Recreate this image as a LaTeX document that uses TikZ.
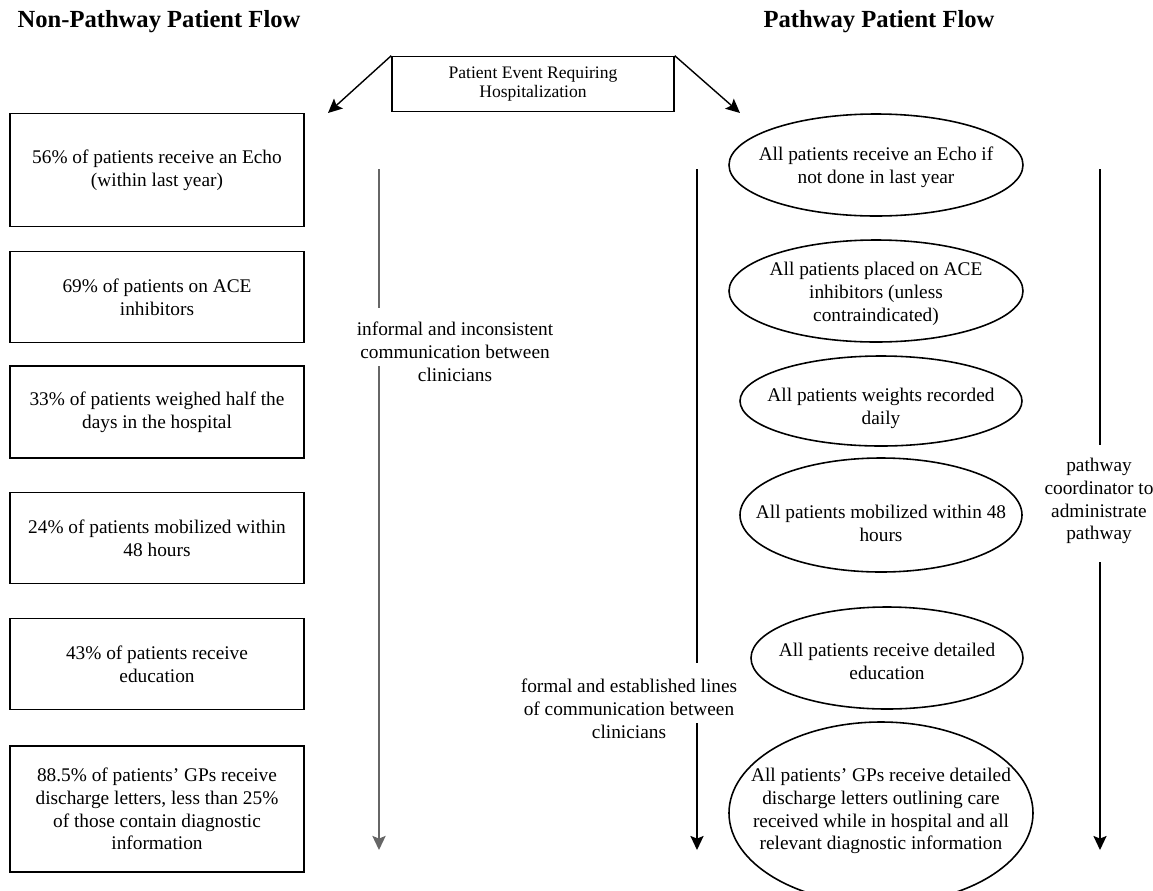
\documentclass[tikz,border=0pt]{standalone}
\usepackage{fontspec}
\setmainfont{Liberation Serif}
\usetikzlibrary{arrows.meta}
\begin{document}
\begin{tikzpicture}[x=0.02cm, y=-0.02cm, >={Stealth[length=8pt, width=7.5pt, inset=1.5pt]},
    flowtitle/.style={font=\fontsize{14}{16}\selectfont\bfseries},
    notetext/.style={font=\fontsize{11}{13}\selectfont, align=center, inner sep=1pt},
    npbox/.style={draw, line width=0.9pt, minimum width=5.88cm, notetext},
    flowline/.style={line width=0.8pt}]
  \useasboundingbox (0,0) rectangle (1153,890);

  % titles
  \node[flowtitle] (nptitle) at (159,22) {Non-Pathway Patient Flow};
  \node[flowtitle] (pwtitle) at (879,22) {Pathway Patient Flow};

  % start event
  \node[draw, line width=0.9pt, minimum width=5.64cm, minimum height=1.1cm, align=center,
        font=\fontsize{10}{11}\selectfont] (event) at (533,84) {Patient Event Requiring\\Hospitalization};
  \coordinate (npin) at (328,113);
  \coordinate (pwin) at (740,113);
  \draw[->, flowline] (event.north west) -- (npin);
  \draw[->, flowline] (event.north east) -- (pwin);

  % non-pathway boxes
  \foreach \y/\h/\txt [count=\i] in {170/2.26/{56\% of patients receive an Echo\\(within last year)},
      297/1.82/{69\% of patients on ACE\\inhibitors},
      412/1.84/{33\% of patients weighed half the\\days in the hospital},
      538/1.82/{24\% of patients mobilized within\\48 hours},
      664/1.82/{43\% of patients receive\\education},
      809/2.52/{88.5\% of patients’ GPs receive\\discharge letters, less than 25\%\\of those contain diagnostic\\information}} {
    \node[npbox, minimum height=\h cm] (np\i) at (157,\y) {\txt};
  }

  % pathway ovals
  \foreach \x/\y/\ty/\rx/\ry/\txt [count=\i] in {876/165/167/147/51/{All patients receive an Echo if\\not done in last year},
      876/291/294/147/51/{All patients placed on ACE\\inhibitors (unless\\contraindicated)},
      881/401/408/141/45/{All patients weights recorded\\daily},
      881/515/523/141/57/{All patients mobilized within 48\\hours},
      887/658/661/136/51/{All patients receive detailed\\education},
      881/813/811/152/91/{All patients’ GPs receive detailed\\discharge letters outlining care\\received while in hospital and all\\relevant diagnostic information}} {
    \node[notetext] (pw\i) at (\x,\ty) {\txt};
    \draw[line width=0.9pt] (\x,\y) ellipse [x radius=\rx, y radius=\ry];
  }

  % communication lines
  \foreach \name/\x/\ya/\yb/\col/\lw in {inf/379/308/366/black!60/1.2pt, frm/697/663/723/black/0.8pt, crd/1100/445/562/black/0.8pt} {
    \coordinate (\name top) at (\x,169);
    \coordinate (\name a) at (\x,\ya);
    \coordinate (\name b) at (\x,\yb);
    \coordinate (\name end) at (\x,850);
    \draw[line width=\lw, \col] (\name top) -- (\name a);
    \draw[->, line width=\lw, \col] (\name b) -- (\name end);
  }
  \node[notetext] (inflbl) at (455,352) {informal and inconsistent\\communication between\\clinicians};
  \node[notetext] (frmlbl) at (629,709) {formal and established lines\\of communication between\\clinicians};
  \node[notetext] (crdlbl) at (1099,501) {pathway\\coordinator to\\administrate\\pathway};
\end{tikzpicture}
\end{document}
